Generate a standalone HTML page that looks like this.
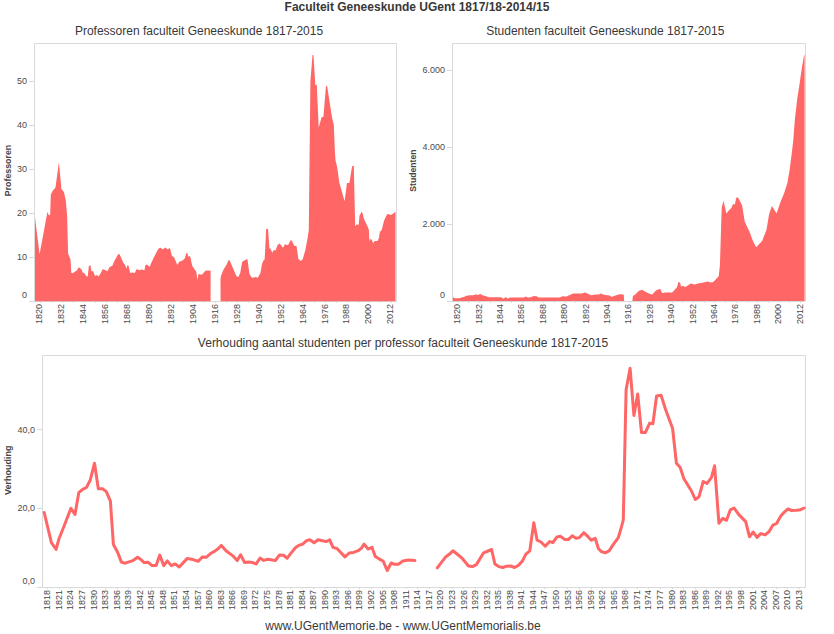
<!DOCTYPE html>
<html><head><meta charset="utf-8"><style>
html,body{margin:0;padding:0;background:#fff;width:834px;height:634px;overflow:hidden}
svg{display:block;font-family:"Liberation Sans",sans-serif}
</style></head><body>
<svg width="834" height="634" viewBox="0 0 834 634">
<text transform="translate(417.00 11.00)" font-size="12" text-anchor="middle" font-weight="bold" fill="#383838">Faculteit Geneeskunde UGent 1817/18-2014/15</text>
<text transform="translate(199.00 35.00)" font-size="12" text-anchor="middle" font-weight="normal" fill="#383838">Professoren faculteit Geneeskunde 1817-2015</text>
<text transform="translate(605.30 35.00)" font-size="12" text-anchor="middle" font-weight="normal" fill="#383838">Studenten faculteit Geneeskunde 1817-2015</text>
<text transform="translate(403.00 347.00)" font-size="12" text-anchor="middle" font-weight="normal" fill="#383838">Verhouding aantal studenten per professor faculteit Geneeskunde 1817-2015</text>
<text transform="translate(403.00 630.00)" font-size="12" text-anchor="middle" font-weight="normal" fill="#383838">www.UGentMemorie.be - www.UGentMemorialis.be</text>
<line x1="34.5" y1="43.5" x2="396.5" y2="43.5" stroke="#d9d9d9" stroke-width="1"/>
<line x1="396.5" y1="43.5" x2="396.5" y2="301.5" stroke="#d9d9d9" stroke-width="1"/>
<line x1="34.5" y1="43.5" x2="34.5" y2="301.5" stroke="#d9d9d9" stroke-width="1"/>
<line x1="29" y1="301.5" x2="396.5" y2="301.5" stroke="#d9d9d9" stroke-width="1"/>
<line x1="29" y1="257.5" x2="34" y2="257.5" stroke="#d9d9d9" stroke-width="1"/>
<text transform="translate(27.00 259.90) scale(1.0 1.1)" font-size="9" text-anchor="end" font-weight="normal" fill="#4a4a4a">10</text>
<line x1="29" y1="213.5" x2="34" y2="213.5" stroke="#d9d9d9" stroke-width="1"/>
<text transform="translate(27.00 215.90) scale(1.0 1.1)" font-size="9" text-anchor="end" font-weight="normal" fill="#4a4a4a">20</text>
<line x1="29" y1="169.5" x2="34" y2="169.5" stroke="#d9d9d9" stroke-width="1"/>
<text transform="translate(27.00 171.90) scale(1.0 1.1)" font-size="9" text-anchor="end" font-weight="normal" fill="#4a4a4a">30</text>
<line x1="29" y1="125.5" x2="34" y2="125.5" stroke="#d9d9d9" stroke-width="1"/>
<text transform="translate(27.00 127.90) scale(1.0 1.1)" font-size="9" text-anchor="end" font-weight="normal" fill="#4a4a4a">40</text>
<line x1="29" y1="81.5" x2="34" y2="81.5" stroke="#d9d9d9" stroke-width="1"/>
<text transform="translate(27.00 83.90) scale(1.0 1.1)" font-size="9" text-anchor="end" font-weight="normal" fill="#4a4a4a">50</text>
<text transform="translate(27.00 298.40) scale(1.0 1.1)" font-size="9" text-anchor="end" font-weight="normal" fill="#4a4a4a">0</text>
<line x1="40.5" y1="302" x2="40.5" y2="303" stroke="#d9d9d9" stroke-width="1"/>
<line x1="51.5" y1="302" x2="51.5" y2="303" stroke="#d9d9d9" stroke-width="1"/>
<line x1="62.5" y1="302" x2="62.5" y2="303" stroke="#d9d9d9" stroke-width="1"/>
<line x1="73.5" y1="302" x2="73.5" y2="303" stroke="#d9d9d9" stroke-width="1"/>
<line x1="84.5" y1="302" x2="84.5" y2="303" stroke="#d9d9d9" stroke-width="1"/>
<line x1="95.5" y1="302" x2="95.5" y2="303" stroke="#d9d9d9" stroke-width="1"/>
<line x1="106.5" y1="302" x2="106.5" y2="303" stroke="#d9d9d9" stroke-width="1"/>
<line x1="117.5" y1="302" x2="117.5" y2="303" stroke="#d9d9d9" stroke-width="1"/>
<line x1="128.5" y1="302" x2="128.5" y2="303" stroke="#d9d9d9" stroke-width="1"/>
<line x1="139.5" y1="302" x2="139.5" y2="303" stroke="#d9d9d9" stroke-width="1"/>
<line x1="150.5" y1="302" x2="150.5" y2="303" stroke="#d9d9d9" stroke-width="1"/>
<line x1="161.5" y1="302" x2="161.5" y2="303" stroke="#d9d9d9" stroke-width="1"/>
<line x1="172.5" y1="302" x2="172.5" y2="303" stroke="#d9d9d9" stroke-width="1"/>
<line x1="182.5" y1="302" x2="182.5" y2="303" stroke="#d9d9d9" stroke-width="1"/>
<line x1="193.5" y1="302" x2="193.5" y2="303" stroke="#d9d9d9" stroke-width="1"/>
<line x1="204.5" y1="302" x2="204.5" y2="303" stroke="#d9d9d9" stroke-width="1"/>
<line x1="215.5" y1="302" x2="215.5" y2="303" stroke="#d9d9d9" stroke-width="1"/>
<line x1="226.5" y1="302" x2="226.5" y2="303" stroke="#d9d9d9" stroke-width="1"/>
<line x1="237.5" y1="302" x2="237.5" y2="303" stroke="#d9d9d9" stroke-width="1"/>
<line x1="248.5" y1="302" x2="248.5" y2="303" stroke="#d9d9d9" stroke-width="1"/>
<line x1="259.5" y1="302" x2="259.5" y2="303" stroke="#d9d9d9" stroke-width="1"/>
<line x1="270.5" y1="302" x2="270.5" y2="303" stroke="#d9d9d9" stroke-width="1"/>
<line x1="281.5" y1="302" x2="281.5" y2="303" stroke="#d9d9d9" stroke-width="1"/>
<line x1="292.5" y1="302" x2="292.5" y2="303" stroke="#d9d9d9" stroke-width="1"/>
<line x1="303.5" y1="302" x2="303.5" y2="303" stroke="#d9d9d9" stroke-width="1"/>
<line x1="314.5" y1="302" x2="314.5" y2="303" stroke="#d9d9d9" stroke-width="1"/>
<line x1="325.5" y1="302" x2="325.5" y2="303" stroke="#d9d9d9" stroke-width="1"/>
<line x1="336.5" y1="302" x2="336.5" y2="303" stroke="#d9d9d9" stroke-width="1"/>
<line x1="347.5" y1="302" x2="347.5" y2="303" stroke="#d9d9d9" stroke-width="1"/>
<line x1="358.5" y1="302" x2="358.5" y2="303" stroke="#d9d9d9" stroke-width="1"/>
<line x1="369.5" y1="302" x2="369.5" y2="303" stroke="#d9d9d9" stroke-width="1"/>
<line x1="380.5" y1="302" x2="380.5" y2="303" stroke="#d9d9d9" stroke-width="1"/>
<line x1="391.5" y1="302" x2="391.5" y2="303" stroke="#d9d9d9" stroke-width="1"/>
<text transform="translate(42.44 304.00) rotate(-90) scale(1.0 1.1)" font-size="9" text-anchor="end" font-weight="normal" fill="#4a4a4a">1820</text>
<text transform="translate(64.37 304.00) rotate(-90) scale(1.0 1.1)" font-size="9" text-anchor="end" font-weight="normal" fill="#4a4a4a">1832</text>
<text transform="translate(86.30 304.00) rotate(-90) scale(1.0 1.1)" font-size="9" text-anchor="end" font-weight="normal" fill="#4a4a4a">1844</text>
<text transform="translate(108.23 304.00) rotate(-90) scale(1.0 1.1)" font-size="9" text-anchor="end" font-weight="normal" fill="#4a4a4a">1856</text>
<text transform="translate(130.16 304.00) rotate(-90) scale(1.0 1.1)" font-size="9" text-anchor="end" font-weight="normal" fill="#4a4a4a">1868</text>
<text transform="translate(152.09 304.00) rotate(-90) scale(1.0 1.1)" font-size="9" text-anchor="end" font-weight="normal" fill="#4a4a4a">1880</text>
<text transform="translate(174.02 304.00) rotate(-90) scale(1.0 1.1)" font-size="9" text-anchor="end" font-weight="normal" fill="#4a4a4a">1892</text>
<text transform="translate(195.95 304.00) rotate(-90) scale(1.0 1.1)" font-size="9" text-anchor="end" font-weight="normal" fill="#4a4a4a">1904</text>
<text transform="translate(217.88 304.00) rotate(-90) scale(1.0 1.1)" font-size="9" text-anchor="end" font-weight="normal" fill="#4a4a4a">1916</text>
<text transform="translate(239.81 304.00) rotate(-90) scale(1.0 1.1)" font-size="9" text-anchor="end" font-weight="normal" fill="#4a4a4a">1928</text>
<text transform="translate(261.74 304.00) rotate(-90) scale(1.0 1.1)" font-size="9" text-anchor="end" font-weight="normal" fill="#4a4a4a">1940</text>
<text transform="translate(283.67 304.00) rotate(-90) scale(1.0 1.1)" font-size="9" text-anchor="end" font-weight="normal" fill="#4a4a4a">1952</text>
<text transform="translate(305.60 304.00) rotate(-90) scale(1.0 1.1)" font-size="9" text-anchor="end" font-weight="normal" fill="#4a4a4a">1964</text>
<text transform="translate(327.53 304.00) rotate(-90) scale(1.0 1.1)" font-size="9" text-anchor="end" font-weight="normal" fill="#4a4a4a">1976</text>
<text transform="translate(349.46 304.00) rotate(-90) scale(1.0 1.1)" font-size="9" text-anchor="end" font-weight="normal" fill="#4a4a4a">1988</text>
<text transform="translate(371.39 304.00) rotate(-90) scale(1.0 1.1)" font-size="9" text-anchor="end" font-weight="normal" fill="#4a4a4a">2000</text>
<text transform="translate(393.32 304.00) rotate(-90) scale(1.0 1.1)" font-size="9" text-anchor="end" font-weight="normal" fill="#4a4a4a">2012</text>
<text transform="translate(11.40 170.50) rotate(-90) scale(0.98 1.1)" font-size="9" text-anchor="middle" font-weight="bold" fill="#444">Professoren</text>
<line x1="452.5" y1="43.5" x2="805.5" y2="43.5" stroke="#d9d9d9" stroke-width="1"/>
<line x1="805.5" y1="43.5" x2="805.5" y2="301.5" stroke="#d9d9d9" stroke-width="1"/>
<line x1="452.5" y1="43.5" x2="452.5" y2="301.5" stroke="#d9d9d9" stroke-width="1"/>
<line x1="447" y1="301.5" x2="805.5" y2="301.5" stroke="#d9d9d9" stroke-width="1"/>
<line x1="447" y1="224.5" x2="452" y2="224.5" stroke="#d9d9d9" stroke-width="1"/>
<text transform="translate(445.00 226.80) scale(1.0 1.1)" font-size="9" text-anchor="end" font-weight="normal" fill="#4a4a4a">2.000</text>
<line x1="447" y1="147.5" x2="452" y2="147.5" stroke="#d9d9d9" stroke-width="1"/>
<text transform="translate(445.00 149.90) scale(1.0 1.1)" font-size="9" text-anchor="end" font-weight="normal" fill="#4a4a4a">4.000</text>
<line x1="447" y1="70.5" x2="452" y2="70.5" stroke="#d9d9d9" stroke-width="1"/>
<text transform="translate(445.00 73.00) scale(1.0 1.1)" font-size="9" text-anchor="end" font-weight="normal" fill="#4a4a4a">6.000</text>
<text transform="translate(445.00 298.40) scale(1.0 1.1)" font-size="9" text-anchor="end" font-weight="normal" fill="#4a4a4a">0</text>
<line x1="458.5" y1="302" x2="458.5" y2="303" stroke="#d9d9d9" stroke-width="1"/>
<line x1="468.5" y1="302" x2="468.5" y2="303" stroke="#d9d9d9" stroke-width="1"/>
<line x1="479.5" y1="302" x2="479.5" y2="303" stroke="#d9d9d9" stroke-width="1"/>
<line x1="490.5" y1="302" x2="490.5" y2="303" stroke="#d9d9d9" stroke-width="1"/>
<line x1="500.5" y1="302" x2="500.5" y2="303" stroke="#d9d9d9" stroke-width="1"/>
<line x1="511.5" y1="302" x2="511.5" y2="303" stroke="#d9d9d9" stroke-width="1"/>
<line x1="522.5" y1="302" x2="522.5" y2="303" stroke="#d9d9d9" stroke-width="1"/>
<line x1="533.5" y1="302" x2="533.5" y2="303" stroke="#d9d9d9" stroke-width="1"/>
<line x1="543.5" y1="302" x2="543.5" y2="303" stroke="#d9d9d9" stroke-width="1"/>
<line x1="554.5" y1="302" x2="554.5" y2="303" stroke="#d9d9d9" stroke-width="1"/>
<line x1="565.5" y1="302" x2="565.5" y2="303" stroke="#d9d9d9" stroke-width="1"/>
<line x1="575.5" y1="302" x2="575.5" y2="303" stroke="#d9d9d9" stroke-width="1"/>
<line x1="586.5" y1="302" x2="586.5" y2="303" stroke="#d9d9d9" stroke-width="1"/>
<line x1="597.5" y1="302" x2="597.5" y2="303" stroke="#d9d9d9" stroke-width="1"/>
<line x1="607.5" y1="302" x2="607.5" y2="303" stroke="#d9d9d9" stroke-width="1"/>
<line x1="618.5" y1="302" x2="618.5" y2="303" stroke="#d9d9d9" stroke-width="1"/>
<line x1="629.5" y1="302" x2="629.5" y2="303" stroke="#d9d9d9" stroke-width="1"/>
<line x1="640.5" y1="302" x2="640.5" y2="303" stroke="#d9d9d9" stroke-width="1"/>
<line x1="650.5" y1="302" x2="650.5" y2="303" stroke="#d9d9d9" stroke-width="1"/>
<line x1="661.5" y1="302" x2="661.5" y2="303" stroke="#d9d9d9" stroke-width="1"/>
<line x1="672.5" y1="302" x2="672.5" y2="303" stroke="#d9d9d9" stroke-width="1"/>
<line x1="682.5" y1="302" x2="682.5" y2="303" stroke="#d9d9d9" stroke-width="1"/>
<line x1="693.5" y1="302" x2="693.5" y2="303" stroke="#d9d9d9" stroke-width="1"/>
<line x1="704.5" y1="302" x2="704.5" y2="303" stroke="#d9d9d9" stroke-width="1"/>
<line x1="714.5" y1="302" x2="714.5" y2="303" stroke="#d9d9d9" stroke-width="1"/>
<line x1="725.5" y1="302" x2="725.5" y2="303" stroke="#d9d9d9" stroke-width="1"/>
<line x1="736.5" y1="302" x2="736.5" y2="303" stroke="#d9d9d9" stroke-width="1"/>
<line x1="747.5" y1="302" x2="747.5" y2="303" stroke="#d9d9d9" stroke-width="1"/>
<line x1="757.5" y1="302" x2="757.5" y2="303" stroke="#d9d9d9" stroke-width="1"/>
<line x1="768.5" y1="302" x2="768.5" y2="303" stroke="#d9d9d9" stroke-width="1"/>
<line x1="779.5" y1="302" x2="779.5" y2="303" stroke="#d9d9d9" stroke-width="1"/>
<line x1="789.5" y1="302" x2="789.5" y2="303" stroke="#d9d9d9" stroke-width="1"/>
<line x1="800.5" y1="302" x2="800.5" y2="303" stroke="#d9d9d9" stroke-width="1"/>
<text transform="translate(460.20 304.00) rotate(-90) scale(1.0 1.1)" font-size="9" text-anchor="end" font-weight="normal" fill="#4a4a4a">1820</text>
<text transform="translate(481.60 304.00) rotate(-90) scale(1.0 1.1)" font-size="9" text-anchor="end" font-weight="normal" fill="#4a4a4a">1832</text>
<text transform="translate(503.00 304.00) rotate(-90) scale(1.0 1.1)" font-size="9" text-anchor="end" font-weight="normal" fill="#4a4a4a">1844</text>
<text transform="translate(524.40 304.00) rotate(-90) scale(1.0 1.1)" font-size="9" text-anchor="end" font-weight="normal" fill="#4a4a4a">1856</text>
<text transform="translate(545.80 304.00) rotate(-90) scale(1.0 1.1)" font-size="9" text-anchor="end" font-weight="normal" fill="#4a4a4a">1868</text>
<text transform="translate(567.20 304.00) rotate(-90) scale(1.0 1.1)" font-size="9" text-anchor="end" font-weight="normal" fill="#4a4a4a">1880</text>
<text transform="translate(588.60 304.00) rotate(-90) scale(1.0 1.1)" font-size="9" text-anchor="end" font-weight="normal" fill="#4a4a4a">1892</text>
<text transform="translate(610.00 304.00) rotate(-90) scale(1.0 1.1)" font-size="9" text-anchor="end" font-weight="normal" fill="#4a4a4a">1904</text>
<text transform="translate(631.40 304.00) rotate(-90) scale(1.0 1.1)" font-size="9" text-anchor="end" font-weight="normal" fill="#4a4a4a">1916</text>
<text transform="translate(652.80 304.00) rotate(-90) scale(1.0 1.1)" font-size="9" text-anchor="end" font-weight="normal" fill="#4a4a4a">1928</text>
<text transform="translate(674.20 304.00) rotate(-90) scale(1.0 1.1)" font-size="9" text-anchor="end" font-weight="normal" fill="#4a4a4a">1940</text>
<text transform="translate(695.60 304.00) rotate(-90) scale(1.0 1.1)" font-size="9" text-anchor="end" font-weight="normal" fill="#4a4a4a">1952</text>
<text transform="translate(717.00 304.00) rotate(-90) scale(1.0 1.1)" font-size="9" text-anchor="end" font-weight="normal" fill="#4a4a4a">1964</text>
<text transform="translate(738.39 304.00) rotate(-90) scale(1.0 1.1)" font-size="9" text-anchor="end" font-weight="normal" fill="#4a4a4a">1976</text>
<text transform="translate(759.79 304.00) rotate(-90) scale(1.0 1.1)" font-size="9" text-anchor="end" font-weight="normal" fill="#4a4a4a">1988</text>
<text transform="translate(781.19 304.00) rotate(-90) scale(1.0 1.1)" font-size="9" text-anchor="end" font-weight="normal" fill="#4a4a4a">2000</text>
<text transform="translate(802.59 304.00) rotate(-90) scale(1.0 1.1)" font-size="9" text-anchor="end" font-weight="normal" fill="#4a4a4a">2012</text>
<text transform="translate(416.40 170.60) rotate(-90) scale(0.96 1.1)" font-size="9" text-anchor="middle" font-weight="bold" fill="#444">Studenten</text>
<line x1="42.5" y1="355.5" x2="805.5" y2="355.5" stroke="#d9d9d9" stroke-width="1"/>
<line x1="805.5" y1="355.5" x2="805.5" y2="587.5" stroke="#d9d9d9" stroke-width="1"/>
<line x1="42.5" y1="355.5" x2="42.5" y2="587.5" stroke="#d9d9d9" stroke-width="1"/>
<line x1="37" y1="587.5" x2="805.5" y2="587.5" stroke="#d9d9d9" stroke-width="1"/>
<line x1="37" y1="508.5" x2="42" y2="508.5" stroke="#d9d9d9" stroke-width="1"/>
<text transform="translate(35.00 511.30) scale(1.0 1.1)" font-size="9" text-anchor="end" font-weight="normal" fill="#4a4a4a">20,0</text>
<line x1="37" y1="429.5" x2="42" y2="429.5" stroke="#d9d9d9" stroke-width="1"/>
<text transform="translate(35.00 432.50) scale(1.0 1.1)" font-size="9" text-anchor="end" font-weight="normal" fill="#4a4a4a">40,0</text>
<text transform="translate(35.00 584.40) scale(1.0 1.1)" font-size="9" text-anchor="end" font-weight="normal" fill="#4a4a4a">0,0</text>
<line x1="47.5" y1="588" x2="47.5" y2="589" stroke="#d9d9d9" stroke-width="1"/>
<text transform="translate(50.30 590.00) rotate(-90) scale(1.0 1.1)" font-size="9" text-anchor="end" font-weight="normal" fill="#4a4a4a">1818</text>
<line x1="59.5" y1="588" x2="59.5" y2="589" stroke="#d9d9d9" stroke-width="1"/>
<text transform="translate(61.86 590.00) rotate(-90) scale(1.0 1.1)" font-size="9" text-anchor="end" font-weight="normal" fill="#4a4a4a">1821</text>
<line x1="70.5" y1="588" x2="70.5" y2="589" stroke="#d9d9d9" stroke-width="1"/>
<text transform="translate(73.42 590.00) rotate(-90) scale(1.0 1.1)" font-size="9" text-anchor="end" font-weight="normal" fill="#4a4a4a">1824</text>
<line x1="82.5" y1="588" x2="82.5" y2="589" stroke="#d9d9d9" stroke-width="1"/>
<text transform="translate(84.98 590.00) rotate(-90) scale(1.0 1.1)" font-size="9" text-anchor="end" font-weight="normal" fill="#4a4a4a">1827</text>
<line x1="93.5" y1="588" x2="93.5" y2="589" stroke="#d9d9d9" stroke-width="1"/>
<text transform="translate(96.55 590.00) rotate(-90) scale(1.0 1.1)" font-size="9" text-anchor="end" font-weight="normal" fill="#4a4a4a">1830</text>
<line x1="105.5" y1="588" x2="105.5" y2="589" stroke="#d9d9d9" stroke-width="1"/>
<text transform="translate(108.11 590.00) rotate(-90) scale(1.0 1.1)" font-size="9" text-anchor="end" font-weight="normal" fill="#4a4a4a">1833</text>
<line x1="117.5" y1="588" x2="117.5" y2="589" stroke="#d9d9d9" stroke-width="1"/>
<text transform="translate(119.67 590.00) rotate(-90) scale(1.0 1.1)" font-size="9" text-anchor="end" font-weight="normal" fill="#4a4a4a">1836</text>
<line x1="128.5" y1="588" x2="128.5" y2="589" stroke="#d9d9d9" stroke-width="1"/>
<text transform="translate(131.23 590.00) rotate(-90) scale(1.0 1.1)" font-size="9" text-anchor="end" font-weight="normal" fill="#4a4a4a">1839</text>
<line x1="140.5" y1="588" x2="140.5" y2="589" stroke="#d9d9d9" stroke-width="1"/>
<text transform="translate(142.79 590.00) rotate(-90) scale(1.0 1.1)" font-size="9" text-anchor="end" font-weight="normal" fill="#4a4a4a">1842</text>
<line x1="151.5" y1="588" x2="151.5" y2="589" stroke="#d9d9d9" stroke-width="1"/>
<text transform="translate(154.35 590.00) rotate(-90) scale(1.0 1.1)" font-size="9" text-anchor="end" font-weight="normal" fill="#4a4a4a">1845</text>
<line x1="163.5" y1="588" x2="163.5" y2="589" stroke="#d9d9d9" stroke-width="1"/>
<text transform="translate(165.91 590.00) rotate(-90) scale(1.0 1.1)" font-size="9" text-anchor="end" font-weight="normal" fill="#4a4a4a">1848</text>
<line x1="174.5" y1="588" x2="174.5" y2="589" stroke="#d9d9d9" stroke-width="1"/>
<text transform="translate(177.48 590.00) rotate(-90) scale(1.0 1.1)" font-size="9" text-anchor="end" font-weight="normal" fill="#4a4a4a">1851</text>
<line x1="186.5" y1="588" x2="186.5" y2="589" stroke="#d9d9d9" stroke-width="1"/>
<text transform="translate(189.04 590.00) rotate(-90) scale(1.0 1.1)" font-size="9" text-anchor="end" font-weight="normal" fill="#4a4a4a">1854</text>
<line x1="197.5" y1="588" x2="197.5" y2="589" stroke="#d9d9d9" stroke-width="1"/>
<text transform="translate(200.60 590.00) rotate(-90) scale(1.0 1.1)" font-size="9" text-anchor="end" font-weight="normal" fill="#4a4a4a">1857</text>
<line x1="209.5" y1="588" x2="209.5" y2="589" stroke="#d9d9d9" stroke-width="1"/>
<text transform="translate(212.16 590.00) rotate(-90) scale(1.0 1.1)" font-size="9" text-anchor="end" font-weight="normal" fill="#4a4a4a">1860</text>
<line x1="221.5" y1="588" x2="221.5" y2="589" stroke="#d9d9d9" stroke-width="1"/>
<text transform="translate(223.72 590.00) rotate(-90) scale(1.0 1.1)" font-size="9" text-anchor="end" font-weight="normal" fill="#4a4a4a">1863</text>
<line x1="232.5" y1="588" x2="232.5" y2="589" stroke="#d9d9d9" stroke-width="1"/>
<text transform="translate(235.28 590.00) rotate(-90) scale(1.0 1.1)" font-size="9" text-anchor="end" font-weight="normal" fill="#4a4a4a">1866</text>
<line x1="244.5" y1="588" x2="244.5" y2="589" stroke="#d9d9d9" stroke-width="1"/>
<text transform="translate(246.84 590.00) rotate(-90) scale(1.0 1.1)" font-size="9" text-anchor="end" font-weight="normal" fill="#4a4a4a">1869</text>
<line x1="255.5" y1="588" x2="255.5" y2="589" stroke="#d9d9d9" stroke-width="1"/>
<text transform="translate(258.41 590.00) rotate(-90) scale(1.0 1.1)" font-size="9" text-anchor="end" font-weight="normal" fill="#4a4a4a">1872</text>
<line x1="267.5" y1="588" x2="267.5" y2="589" stroke="#d9d9d9" stroke-width="1"/>
<text transform="translate(269.97 590.00) rotate(-90) scale(1.0 1.1)" font-size="9" text-anchor="end" font-weight="normal" fill="#4a4a4a">1875</text>
<line x1="278.5" y1="588" x2="278.5" y2="589" stroke="#d9d9d9" stroke-width="1"/>
<text transform="translate(281.53 590.00) rotate(-90) scale(1.0 1.1)" font-size="9" text-anchor="end" font-weight="normal" fill="#4a4a4a">1878</text>
<line x1="290.5" y1="588" x2="290.5" y2="589" stroke="#d9d9d9" stroke-width="1"/>
<text transform="translate(293.09 590.00) rotate(-90) scale(1.0 1.1)" font-size="9" text-anchor="end" font-weight="normal" fill="#4a4a4a">1881</text>
<line x1="302.5" y1="588" x2="302.5" y2="589" stroke="#d9d9d9" stroke-width="1"/>
<text transform="translate(304.65 590.00) rotate(-90) scale(1.0 1.1)" font-size="9" text-anchor="end" font-weight="normal" fill="#4a4a4a">1884</text>
<line x1="313.5" y1="588" x2="313.5" y2="589" stroke="#d9d9d9" stroke-width="1"/>
<text transform="translate(316.21 590.00) rotate(-90) scale(1.0 1.1)" font-size="9" text-anchor="end" font-weight="normal" fill="#4a4a4a">1887</text>
<line x1="325.5" y1="588" x2="325.5" y2="589" stroke="#d9d9d9" stroke-width="1"/>
<text transform="translate(327.77 590.00) rotate(-90) scale(1.0 1.1)" font-size="9" text-anchor="end" font-weight="normal" fill="#4a4a4a">1890</text>
<line x1="336.5" y1="588" x2="336.5" y2="589" stroke="#d9d9d9" stroke-width="1"/>
<text transform="translate(339.34 590.00) rotate(-90) scale(1.0 1.1)" font-size="9" text-anchor="end" font-weight="normal" fill="#4a4a4a">1893</text>
<line x1="348.5" y1="588" x2="348.5" y2="589" stroke="#d9d9d9" stroke-width="1"/>
<text transform="translate(350.90 590.00) rotate(-90) scale(1.0 1.1)" font-size="9" text-anchor="end" font-weight="normal" fill="#4a4a4a">1896</text>
<line x1="359.5" y1="588" x2="359.5" y2="589" stroke="#d9d9d9" stroke-width="1"/>
<text transform="translate(362.46 590.00) rotate(-90) scale(1.0 1.1)" font-size="9" text-anchor="end" font-weight="normal" fill="#4a4a4a">1899</text>
<line x1="371.5" y1="588" x2="371.5" y2="589" stroke="#d9d9d9" stroke-width="1"/>
<text transform="translate(374.02 590.00) rotate(-90) scale(1.0 1.1)" font-size="9" text-anchor="end" font-weight="normal" fill="#4a4a4a">1902</text>
<line x1="382.5" y1="588" x2="382.5" y2="589" stroke="#d9d9d9" stroke-width="1"/>
<text transform="translate(385.58 590.00) rotate(-90) scale(1.0 1.1)" font-size="9" text-anchor="end" font-weight="normal" fill="#4a4a4a">1905</text>
<line x1="394.5" y1="588" x2="394.5" y2="589" stroke="#d9d9d9" stroke-width="1"/>
<text transform="translate(397.14 590.00) rotate(-90) scale(1.0 1.1)" font-size="9" text-anchor="end" font-weight="normal" fill="#4a4a4a">1908</text>
<line x1="406.5" y1="588" x2="406.5" y2="589" stroke="#d9d9d9" stroke-width="1"/>
<text transform="translate(408.70 590.00) rotate(-90) scale(1.0 1.1)" font-size="9" text-anchor="end" font-weight="normal" fill="#4a4a4a">1911</text>
<line x1="417.5" y1="588" x2="417.5" y2="589" stroke="#d9d9d9" stroke-width="1"/>
<text transform="translate(420.26 590.00) rotate(-90) scale(1.0 1.1)" font-size="9" text-anchor="end" font-weight="normal" fill="#4a4a4a">1914</text>
<line x1="429.5" y1="588" x2="429.5" y2="589" stroke="#d9d9d9" stroke-width="1"/>
<text transform="translate(431.83 590.00) rotate(-90) scale(1.0 1.1)" font-size="9" text-anchor="end" font-weight="normal" fill="#4a4a4a">1917</text>
<line x1="440.5" y1="588" x2="440.5" y2="589" stroke="#d9d9d9" stroke-width="1"/>
<text transform="translate(443.39 590.00) rotate(-90) scale(1.0 1.1)" font-size="9" text-anchor="end" font-weight="normal" fill="#4a4a4a">1920</text>
<line x1="452.5" y1="588" x2="452.5" y2="589" stroke="#d9d9d9" stroke-width="1"/>
<text transform="translate(454.95 590.00) rotate(-90) scale(1.0 1.1)" font-size="9" text-anchor="end" font-weight="normal" fill="#4a4a4a">1923</text>
<line x1="463.5" y1="588" x2="463.5" y2="589" stroke="#d9d9d9" stroke-width="1"/>
<text transform="translate(466.51 590.00) rotate(-90) scale(1.0 1.1)" font-size="9" text-anchor="end" font-weight="normal" fill="#4a4a4a">1926</text>
<line x1="475.5" y1="588" x2="475.5" y2="589" stroke="#d9d9d9" stroke-width="1"/>
<text transform="translate(478.07 590.00) rotate(-90) scale(1.0 1.1)" font-size="9" text-anchor="end" font-weight="normal" fill="#4a4a4a">1929</text>
<line x1="487.5" y1="588" x2="487.5" y2="589" stroke="#d9d9d9" stroke-width="1"/>
<text transform="translate(489.63 590.00) rotate(-90) scale(1.0 1.1)" font-size="9" text-anchor="end" font-weight="normal" fill="#4a4a4a">1932</text>
<line x1="498.5" y1="588" x2="498.5" y2="589" stroke="#d9d9d9" stroke-width="1"/>
<text transform="translate(501.19 590.00) rotate(-90) scale(1.0 1.1)" font-size="9" text-anchor="end" font-weight="normal" fill="#4a4a4a">1935</text>
<line x1="510.5" y1="588" x2="510.5" y2="589" stroke="#d9d9d9" stroke-width="1"/>
<text transform="translate(512.76 590.00) rotate(-90) scale(1.0 1.1)" font-size="9" text-anchor="end" font-weight="normal" fill="#4a4a4a">1938</text>
<line x1="521.5" y1="588" x2="521.5" y2="589" stroke="#d9d9d9" stroke-width="1"/>
<text transform="translate(524.32 590.00) rotate(-90) scale(1.0 1.1)" font-size="9" text-anchor="end" font-weight="normal" fill="#4a4a4a">1941</text>
<line x1="533.5" y1="588" x2="533.5" y2="589" stroke="#d9d9d9" stroke-width="1"/>
<text transform="translate(535.88 590.00) rotate(-90) scale(1.0 1.1)" font-size="9" text-anchor="end" font-weight="normal" fill="#4a4a4a">1944</text>
<line x1="544.5" y1="588" x2="544.5" y2="589" stroke="#d9d9d9" stroke-width="1"/>
<text transform="translate(547.44 590.00) rotate(-90) scale(1.0 1.1)" font-size="9" text-anchor="end" font-weight="normal" fill="#4a4a4a">1947</text>
<line x1="556.5" y1="588" x2="556.5" y2="589" stroke="#d9d9d9" stroke-width="1"/>
<text transform="translate(559.00 590.00) rotate(-90) scale(1.0 1.1)" font-size="9" text-anchor="end" font-weight="normal" fill="#4a4a4a">1950</text>
<line x1="567.5" y1="588" x2="567.5" y2="589" stroke="#d9d9d9" stroke-width="1"/>
<text transform="translate(570.56 590.00) rotate(-90) scale(1.0 1.1)" font-size="9" text-anchor="end" font-weight="normal" fill="#4a4a4a">1953</text>
<line x1="579.5" y1="588" x2="579.5" y2="589" stroke="#d9d9d9" stroke-width="1"/>
<text transform="translate(582.12 590.00) rotate(-90) scale(1.0 1.1)" font-size="9" text-anchor="end" font-weight="normal" fill="#4a4a4a">1956</text>
<line x1="591.5" y1="588" x2="591.5" y2="589" stroke="#d9d9d9" stroke-width="1"/>
<text transform="translate(593.69 590.00) rotate(-90) scale(1.0 1.1)" font-size="9" text-anchor="end" font-weight="normal" fill="#4a4a4a">1959</text>
<line x1="602.5" y1="588" x2="602.5" y2="589" stroke="#d9d9d9" stroke-width="1"/>
<text transform="translate(605.25 590.00) rotate(-90) scale(1.0 1.1)" font-size="9" text-anchor="end" font-weight="normal" fill="#4a4a4a">1962</text>
<line x1="614.5" y1="588" x2="614.5" y2="589" stroke="#d9d9d9" stroke-width="1"/>
<text transform="translate(616.81 590.00) rotate(-90) scale(1.0 1.1)" font-size="9" text-anchor="end" font-weight="normal" fill="#4a4a4a">1965</text>
<line x1="625.5" y1="588" x2="625.5" y2="589" stroke="#d9d9d9" stroke-width="1"/>
<text transform="translate(628.37 590.00) rotate(-90) scale(1.0 1.1)" font-size="9" text-anchor="end" font-weight="normal" fill="#4a4a4a">1968</text>
<line x1="637.5" y1="588" x2="637.5" y2="589" stroke="#d9d9d9" stroke-width="1"/>
<text transform="translate(639.93 590.00) rotate(-90) scale(1.0 1.1)" font-size="9" text-anchor="end" font-weight="normal" fill="#4a4a4a">1971</text>
<line x1="648.5" y1="588" x2="648.5" y2="589" stroke="#d9d9d9" stroke-width="1"/>
<text transform="translate(651.49 590.00) rotate(-90) scale(1.0 1.1)" font-size="9" text-anchor="end" font-weight="normal" fill="#4a4a4a">1974</text>
<line x1="660.5" y1="588" x2="660.5" y2="589" stroke="#d9d9d9" stroke-width="1"/>
<text transform="translate(663.05 590.00) rotate(-90) scale(1.0 1.1)" font-size="9" text-anchor="end" font-weight="normal" fill="#4a4a4a">1977</text>
<line x1="672.5" y1="588" x2="672.5" y2="589" stroke="#d9d9d9" stroke-width="1"/>
<text transform="translate(674.62 590.00) rotate(-90) scale(1.0 1.1)" font-size="9" text-anchor="end" font-weight="normal" fill="#4a4a4a">1980</text>
<line x1="683.5" y1="588" x2="683.5" y2="589" stroke="#d9d9d9" stroke-width="1"/>
<text transform="translate(686.18 590.00) rotate(-90) scale(1.0 1.1)" font-size="9" text-anchor="end" font-weight="normal" fill="#4a4a4a">1983</text>
<line x1="695.5" y1="588" x2="695.5" y2="589" stroke="#d9d9d9" stroke-width="1"/>
<text transform="translate(697.74 590.00) rotate(-90) scale(1.0 1.1)" font-size="9" text-anchor="end" font-weight="normal" fill="#4a4a4a">1986</text>
<line x1="706.5" y1="588" x2="706.5" y2="589" stroke="#d9d9d9" stroke-width="1"/>
<text transform="translate(709.30 590.00) rotate(-90) scale(1.0 1.1)" font-size="9" text-anchor="end" font-weight="normal" fill="#4a4a4a">1989</text>
<line x1="718.5" y1="588" x2="718.5" y2="589" stroke="#d9d9d9" stroke-width="1"/>
<text transform="translate(720.86 590.00) rotate(-90) scale(1.0 1.1)" font-size="9" text-anchor="end" font-weight="normal" fill="#4a4a4a">1992</text>
<line x1="729.5" y1="588" x2="729.5" y2="589" stroke="#d9d9d9" stroke-width="1"/>
<text transform="translate(732.42 590.00) rotate(-90) scale(1.0 1.1)" font-size="9" text-anchor="end" font-weight="normal" fill="#4a4a4a">1995</text>
<line x1="741.5" y1="588" x2="741.5" y2="589" stroke="#d9d9d9" stroke-width="1"/>
<text transform="translate(743.98 590.00) rotate(-90) scale(1.0 1.1)" font-size="9" text-anchor="end" font-weight="normal" fill="#4a4a4a">1998</text>
<line x1="752.5" y1="588" x2="752.5" y2="589" stroke="#d9d9d9" stroke-width="1"/>
<text transform="translate(755.55 590.00) rotate(-90) scale(1.0 1.1)" font-size="9" text-anchor="end" font-weight="normal" fill="#4a4a4a">2001</text>
<line x1="764.5" y1="588" x2="764.5" y2="589" stroke="#d9d9d9" stroke-width="1"/>
<text transform="translate(767.11 590.00) rotate(-90) scale(1.0 1.1)" font-size="9" text-anchor="end" font-weight="normal" fill="#4a4a4a">2004</text>
<line x1="776.5" y1="588" x2="776.5" y2="589" stroke="#d9d9d9" stroke-width="1"/>
<text transform="translate(778.67 590.00) rotate(-90) scale(1.0 1.1)" font-size="9" text-anchor="end" font-weight="normal" fill="#4a4a4a">2007</text>
<line x1="787.5" y1="588" x2="787.5" y2="589" stroke="#d9d9d9" stroke-width="1"/>
<text transform="translate(790.23 590.00) rotate(-90) scale(1.0 1.1)" font-size="9" text-anchor="end" font-weight="normal" fill="#4a4a4a">2010</text>
<line x1="799.5" y1="588" x2="799.5" y2="589" stroke="#d9d9d9" stroke-width="1"/>
<text transform="translate(801.79 590.00) rotate(-90) scale(1.0 1.1)" font-size="9" text-anchor="end" font-weight="normal" fill="#4a4a4a">2013</text>
<text transform="translate(10.90 470.30) rotate(-90) scale(1.0 1.1)" font-size="9" text-anchor="middle" font-weight="bold" fill="#444">Verhouding</text>
<path d="M35.0,301.3 L35.0,217.6 L39.6,254.2 L47.4,212.1 L49.0,215.5 L50.2,214.8 L50.8,194.5 L52.9,190.5 L55.5,187.6 L58.9,162.0 L61.4,189.1 L63.9,191.9 L65.8,200.4 L67.1,215.6 L68.1,253.4 L70.5,259.6 L71.3,272.7 L73.0,273.2 L75.1,271.5 L76.6,270.7 L78.8,267.2 L80.4,268.4 L81.6,269.4 L82.4,272.2 L84.4,273.2 L86.2,276.3 L87.7,276.5 L88.9,265.7 L90.5,265.4 L91.5,271.2 L93.2,271.2 L95.0,276.0 L96.8,275.0 L98.5,276.5 L100.3,274.0 L102.6,269.2 L103.8,269.4 L105.4,270.2 L107.6,271.0 L109.5,266.9 L111.0,266.4 L112.5,265.4 L114.1,261.6 L118.1,254.3 L119.6,254.3 L123.2,262.6 L125.2,265.2 L126.4,268.7 L127.2,265.4 L128.5,265.4 L130.2,273.0 L132.2,272.5 L134.8,273.0 L136.3,269.5 L137.5,269.2 L139.1,270.2 L141.6,269.5 L144.4,270.2 L145.4,265.2 L146.8,264.5 L148.2,265.5 L149.5,267.0 L153.4,258.3 L158.1,249.2 L160.1,247.6 L162.9,249.6 L165.2,247.6 L167.6,249.2 L170.0,248.0 L171.9,255.9 L173.9,257.1 L177.4,265.0 L179.3,261.7 L182.9,260.3 L185.1,258.1 L186.1,253.2 L187.4,253.2 L188.3,256.7 L190.1,256.0 L192.3,266.0 L196.3,271.7 L197.5,280.0 L198.5,273.9 L201.9,274.7 L205.4,270.8 L208.0,270.4 L210.6,270.8 L210.6,301.3 Z" fill="#ff6666"/>
<path d="M220.6,301.3 L220.5,278.6 L221.0,275.9 L223.2,270.3 L224.5,268.0 L226.7,264.6 L228.3,260.2 L229.5,260.2 L231.4,264.6 L236.5,276.3 L238.4,276.9 L240.3,272.8 L242.1,262.0 L243.4,261.1 L246.6,259.2 L247.5,259.5 L249.4,273.7 L251.6,277.5 L252.9,277.8 L255.4,276.9 L257.9,277.8 L260.5,272.8 L262.0,263.9 L263.6,260.2 L264.6,259.5 L265.0,253.0 L265.9,234.6 L266.1,229.1 L268.0,229.1 L269.4,247.9 L270.6,249.0 L272.4,252.7 L273.5,250.2 L275.7,250.2 L277.6,245.1 L279.5,243.6 L281.0,245.1 L282.6,247.4 L283.6,247.0 L284.8,244.2 L286.7,245.1 L288.3,244.8 L290.8,240.1 L291.8,240.7 L294.3,245.8 L296.5,246.1 L298.4,259.0 L300.9,260.9 L302.8,259.0 L305.3,250.2 L307.9,236.3 L308.8,230.0 L309.1,202.0 L310.4,81.4 L312.5,55.1 L313.5,55.1 L315.3,84.9 L316.8,84.9 L318.7,127.4 L321.7,117.0 L323.4,117.0 L326.0,85.8 L327.2,86.6 L332.1,117.9 L333.8,124.8 L334.8,150.0 L335.5,160.4 L337.2,167.3 L339.4,183.0 L344.6,201.2 L347.0,183.1 L349.4,183.1 L352.1,166.1 L353.8,166.1 L355.2,226.3 L356.6,224.4 L358.7,224.8 L359.5,215.8 L361.4,212.0 L362.3,212.5 L364.2,219.6 L367.5,226.3 L368.9,230.0 L369.4,241.4 L370.4,239.0 L371.6,239.5 L373.2,243.3 L374.6,240.9 L377.5,240.9 L378.9,238.1 L379.8,231.9 L381.7,230.0 L384.1,220.6 L386.9,214.4 L388.4,213.9 L390.7,214.9 L392.6,213.9 L395.5,211.8 L395.5,301.3 Z" fill="#ff6666"/>
<path d="M452.9,301.0 L452.9,297.3 L455.0,298.3 L459.8,298.3 L461.6,297.4 L464.0,296.9 L465.8,295.9 L469.4,295.2 L473.6,295.2 L476.0,294.2 L477.8,295.0 L480.2,294.0 L483.2,295.4 L485.6,296.0 L488.6,297.2 L500.8,297.2 L503.7,298.7 L505.6,297.1 L507.6,298.4 L510.4,297.5 L523.9,297.5 L525.8,296.5 L528.0,297.5 L530.9,297.3 L533.8,296.1 L536.6,296.3 L538.6,297.5 L559.7,297.5 L562.5,296.3 L566.4,296.5 L569.2,295.3 L573.1,293.4 L581.7,293.4 L585.1,292.5 L588.4,293.9 L591.3,295.2 L595.1,294.4 L599.0,294.4 L600.9,293.6 L604.7,294.9 L608.0,295.3 L609.4,295.4 L611.8,297.1 L613.7,295.9 L615.6,295.4 L619.4,294.2 L623.7,294.5 L624.2,301.0 Z" fill="#ff6666"/>
<path d="M632.4,301.0 L632.9,295.7 L634.8,295.1 L638.6,291.1 L642.0,289.7 L646.3,292.3 L652.0,294.7 L655.9,290.6 L660.2,288.7 L662.1,293.0 L665.5,292.5 L672.2,292.5 L677.0,287.3 L678.4,282.0 L679.9,282.5 L681.3,286.8 L682.7,285.8 L685.4,287.1 L690.8,283.5 L694.4,284.4 L698.0,283.5 L703.4,282.6 L707.9,281.4 L710.6,282.6 L713.3,282.1 L718.7,276.3 L719.9,265.5 L721.7,208.0 L723.5,200.4 L726.4,213.4 L728.6,210.7 L731.3,208.0 L733.1,204.0 L734.9,204.4 L736.1,198.1 L737.9,197.2 L742.1,205.3 L744.7,221.5 L750.1,233.2 L752.6,240.2 L756.1,247.2 L759.5,243.7 L762.1,241.1 L766.5,229.8 L769.1,214.2 L771.9,206.0 L776.6,213.6 L780.3,202.6 L784.2,193.1 L787.4,182.8 L789.7,169.4 L792.1,150.5 L793.3,140.0 L794.9,119.1 L797.3,98.6 L799.7,82.9 L802.0,67.1 L804.1,55.3 L804.6,55.0 L804.6,301.0 Z" fill="#ff6666"/>
<path d="M44.2,512.5 L51.4,542.7 L56.1,549.4 L58.9,539.0 L64.6,524.8 L70.9,508.3 L75.0,514.4 L78.8,492.6 L82.6,489.4 L86.4,487.5 L90.2,480.3 L94.5,463.2 L98.3,488.8 L102.5,488.8 L106.3,491.6 L110.4,501.1 L113.4,544.6 L117.6,552.2 L121.4,562.1 L125.2,563.2 L132.7,560.7 L137.6,557.3 L140.9,559.6 L144.2,562.6 L148.2,562.3 L152.2,565.6 L156.1,565.6 L159.8,555.1 L163.8,565.6 L167.3,560.9 L171.3,565.6 L175.2,563.9 L179.2,567.0 L187.1,558.6 L193.0,559.6 L198.3,561.3 L202.3,556.9 L206.2,557.3 L210.2,553.8 L214.8,551.1 L218.1,548.7 L221.4,545.4 L226.0,550.7 L232.6,555.6 L237.2,560.6 L240.6,554.7 L244.6,562.6 L248.6,562.0 L252.5,562.6 L256.1,563.9 L260.1,558.0 L263.7,560.4 L267.7,559.3 L275.4,560.6 L279.3,555.1 L283.5,555.3 L287.2,558.2 L290.8,553.4 L295.4,547.7 L298.7,545.4 L302.7,544.1 L306.6,540.6 L309.9,539.8 L314.1,542.8 L318.1,539.8 L322.5,540.8 L326.4,541.5 L329.7,539.8 L333.0,547.4 L337.0,548.5 L344.9,556.9 L349.2,553.0 L353.6,552.4 L358.2,550.7 L361.5,548.1 L364.1,544.1 L368.1,549.0 L372.0,547.4 L375.3,556.4 L378.6,558.6 L383.3,561.3 L387.2,570.5 L391.2,563.0 L394.5,564.3 L398.4,564.3 L403.0,560.9 L408.3,560.0 L414.9,560.6" fill="none" stroke="#ff6666" stroke-width="3" stroke-linejoin="round" stroke-linecap="round"/>
<path d="M437.3,567.9 L445.3,557.3 L449.2,554.3 L452.9,550.8 L457.9,554.7 L462.5,558.7 L468.5,566.0 L472.4,566.6 L476.4,564.6 L483.6,552.8 L486.9,551.5 L491.6,549.5 L494.9,564.0 L498.8,566.6 L502.8,567.5 L506.7,566.2 L510.7,566.0 L514.6,567.5 L518.6,565.3 L522.6,560.7 L525.9,554.1 L529.8,550.8 L533.8,522.7 L537.1,540.2 L541.0,542.0 L545.3,546.2 L549.6,541.6 L552.9,542.5 L557.0,536.9 L560.3,536.3 L564.9,539.6 L568.2,539.6 L572.2,535.9 L576.1,538.3 L579.4,537.6 L583.8,532.7 L588.0,536.7 L591.3,540.2 L595.2,538.3 L598.5,548.8 L601.2,551.5 L605.1,552.8 L609.1,550.8 L613.0,544.9 L618.3,537.6 L621.6,526.4 L623.3,519.8 L626.1,389.7 L630.1,368.2 L633.9,415.5 L637.7,394.1 L641.5,432.6 L645.3,432.6 L649.7,423.1 L652.9,423.7 L656.6,396.0 L661.1,395.3 L665.5,409.2 L672.6,428.5 L676.4,463.2 L680.1,467.3 L683.9,478.7 L691.5,491.0 L695.3,499.5 L699.1,496.7 L703.2,481.5 L707.0,483.4 L711.4,477.7 L714.6,465.8 L718.9,523.2 L722.7,518.4 L726.5,520.3 L730.3,509.9 L734.1,508.0 L738.8,514.6 L745.7,521.6 L749.5,536.8 L753.2,532.0 L757.0,537.4 L760.8,533.6 L765.2,534.9 L769.0,531.7 L772.8,525.2 L776.6,523.5 L780.4,516.6 L784.2,512.2 L788.0,509.0 L791.7,510.5 L796.8,510.3 L800.6,509.7 L804.1,508.0" fill="none" stroke="#ff6666" stroke-width="3" stroke-linejoin="round" stroke-linecap="round"/>
</svg></body></html>
